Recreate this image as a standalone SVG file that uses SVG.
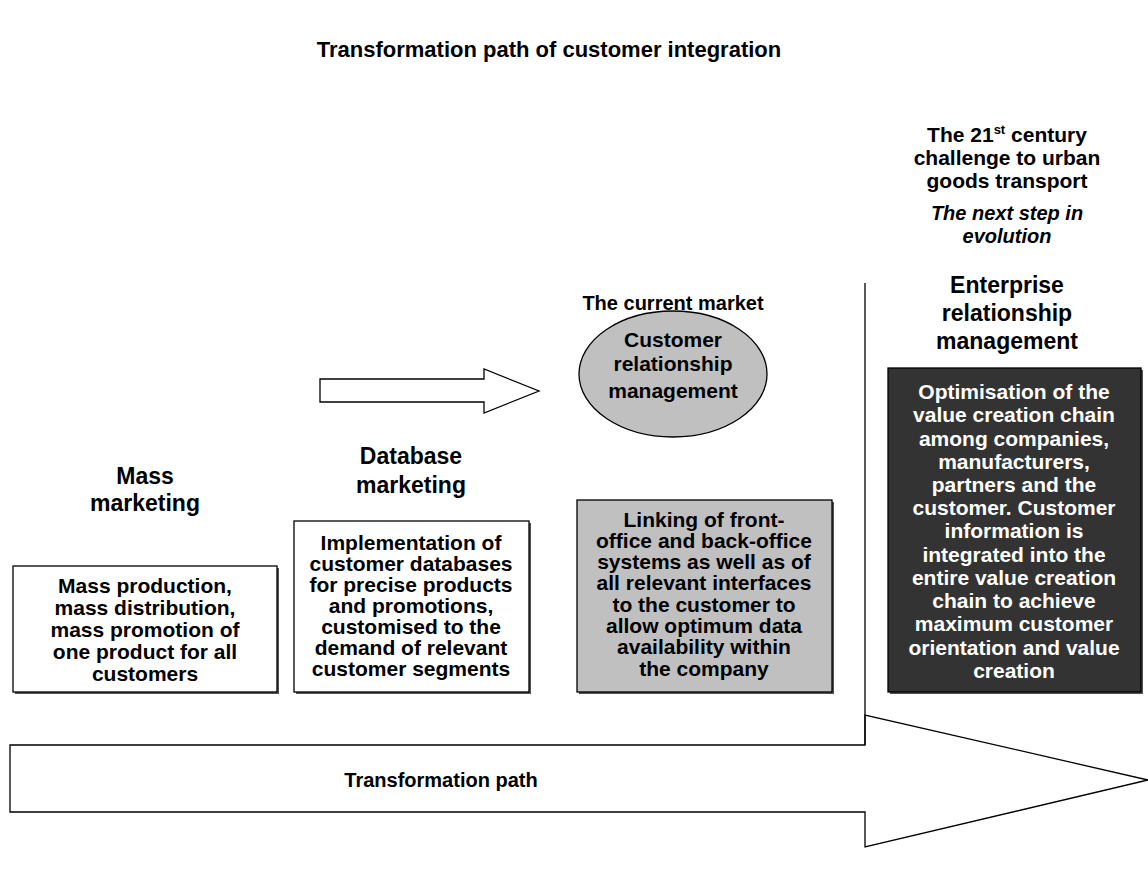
<svg xmlns="http://www.w3.org/2000/svg" width="1148" height="869" viewBox="0 0 1148 869">
<style>
text{font-family:"Liberation Sans",Arial,sans-serif;font-weight:bold;text-anchor:middle;fill:#000}
.t{font-size:20px}
.r{font-size:21px}
.tt{font-size:22px}
.b{font-size:21px}
.h{font-size:23px}
.w{fill:#fff}
.box{stroke:#000;stroke-width:1.3}
.sh{fill:#555}
.ln{fill:none;stroke:#000;stroke-width:1.3}
</style>
<rect width="1148" height="869" fill="#fff"/>
<g id="title"><text class="tt" x="549" y="57">Transformation path of customer integration</text></g>
<g id="challenge">
<text class="r" x="1007" y="142">The 21<tspan font-size="13" dy="-8">st</tspan><tspan dy="8"> century</tspan></text>
<text class="r" x="1007" y="165">challenge to urban</text>
<text class="r" x="1007" y="188">goods transport</text>
<text class="t" x="1007" y="220" font-style="italic">The next step in</text>
<text class="t" x="1007" y="243" font-style="italic">evolution</text>
</g>
<g id="erm">
<text class="h" x="1007" y="293">Enterprise</text>
<text class="h" x="1007" y="321">relationship</text>
<text class="h" x="1007" y="349">management</text>
<rect class="sh" x="890" y="370" width="253" height="324"/>
<rect class="box" x="888" y="368" width="253" height="324" fill="#333"/>
<text class="b w" x="1014" y="399">Optimisation of the</text>
<text class="b w" x="1014" y="422">value creation chain</text>
<text class="b w" x="1014" y="446">among companies,</text>
<text class="b w" x="1014" y="469">manufacturers,</text>
<text class="b w" x="1014" y="492">partners and the</text>
<text class="b w" x="1014" y="515">customer. Customer</text>
<text class="b w" x="1014" y="538">information is</text>
<text class="b w" x="1014" y="562">integrated into the</text>
<text class="b w" x="1014" y="585">entire value creation</text>
<text class="b w" x="1014" y="608">chain to achieve</text>
<text class="b w" x="1014" y="631">maximum customer</text>
<text class="b w" x="1014" y="655">orientation and value</text>
<text class="b w" x="1014" y="678">creation</text>
</g>
<g id="crm">
<text class="t" x="673" y="310">The current market</text>
<ellipse cx="673" cy="374" rx="94" ry="63" fill="#c0c0c0" stroke="#000" stroke-width="1.3"/>
<text class="b" x="673" y="347">Customer</text>
<text class="b" x="673" y="371">relationship</text>
<text class="b" x="673" y="398">management</text>
<rect class="sh" x="579" y="502" width="255" height="192"/>
<rect class="box" x="577" y="500" width="255" height="192" fill="#c0c0c0"/>
<text class="b" x="704" y="527">Linking of front-</text>
<text class="b" x="704" y="548">office and back-office</text>
<text class="b" x="704" y="569">systems as well as of</text>
<text class="b" x="704" y="590">all relevant interfaces</text>
<text class="b" x="704" y="612">to the customer to</text>
<text class="b" x="704" y="633">allow optimum data</text>
<text class="b" x="704" y="654">availability within</text>
<text class="b" x="704" y="676">the company</text>
</g>
<g id="database">
<text class="h" x="411" y="464">Database</text>
<text class="h" x="411" y="493">marketing</text>
<rect class="sh" x="296" y="523" width="235" height="171"/>
<rect class="box" x="294" y="521" width="235" height="171" fill="#fff"/>
<text class="b" x="411" y="550">Implementation of</text>
<text class="b" x="411" y="571">customer databases</text>
<text class="b" x="411" y="592">for precise products</text>
<text class="b" x="411" y="613">and promotions,</text>
<text class="b" x="411" y="634">customised to the</text>
<text class="b" x="411" y="655">demand of relevant</text>
<text class="b" x="411" y="676">customer segments</text>
</g>
<g id="mass">
<text class="h" x="145" y="484">Mass</text>
<text class="h" x="145" y="511">marketing</text>
<rect class="sh" x="15" y="568" width="264" height="126"/>
<rect class="box" x="13" y="566" width="264" height="126" fill="#fff"/>
<text class="b" x="145" y="593">Mass production,</text>
<text class="b" x="145" y="615">mass distribution,</text>
<text class="b" x="145" y="637">mass promotion of</text>
<text class="b" x="145" y="659">one product for all</text>
<text class="b" x="145" y="681">customers</text>
</g>
<g id="connectors">
<polygon class="ln" points="320,379 484,379 484,369 539,391 484,413 484,402 320,402" fill="#fff"/>
<line class="ln" x1="865" y1="283" x2="865" y2="745"/>
<polygon class="ln" points="10,745 865,745 865,715 1148,780 865,847 865,812 10,812" fill="#fff"/>
<text class="t" x="441" y="787">Transformation path</text>
</g>
</svg>
